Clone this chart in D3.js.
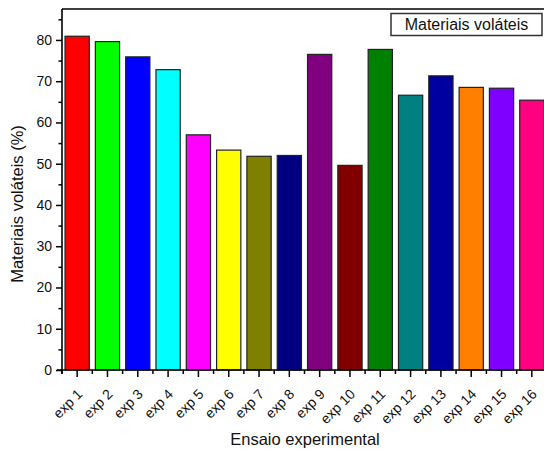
<!DOCTYPE html>
<html>
<head>
<meta charset="utf-8">
<script src="https://cdn.jsdelivr.net/npm/d3@7"></script>
<style>
  html, body { margin: 0; padding: 0; background: #fff; }
  svg { display: block; font-family: Arial, "Liberation Sans", sans-serif; }
</style>
</head>
<body>
<svg id="chart" width="544" height="452"></svg>
<script>
const categories = ["exp 1","exp 2","exp 3","exp 4","exp 5","exp 6","exp 7","exp 8",
                    "exp 9","exp 10","exp 11","exp 12","exp 13","exp 14","exp 15","exp 16"];
const values = [80.9, 79.6, 75.9, 72.8, 57.0, 53.3, 51.8, 52.0,
                76.5, 49.6, 77.7, 66.6, 71.3, 68.5, 68.3, 65.4];
const yTickValues = [0, 10, 20, 30, 40, 50, 60, 70, 80];
const yMinorTickValues = [5, 15, 25, 35, 45, 55, 65, 75, 85];
const yTitle = "Materiais voláteis (%)";
const xTitle = "Ensaio experimental";
const legendLabel = "Materiais voláteis";
const palette = ["#FF0000","#00FF00","#0000FF","#00FFFF","#FF00FF","#FFFF00","#808000","#000080",
                 "#800080","#800000","#008000","#008080","#0000A0","#FF8000","#8000FF","#FF0080"];

const svg = d3.select("#chart");
const mLeft = 62, mRight = 547, mTop = 9, mBottom = 370;

const x = d3.scaleBand().domain(categories).range([mLeft, mRight])
  .paddingInner(0.2).paddingOuter(0.1);
const y = d3.scaleLinear().domain([0, 87.5]).range([mBottom, mTop]);
const color = d3.scaleOrdinal().domain(categories).range(palette);

const textColor = "#111";

// bars
svg.append("g").selectAll("rect").data(categories).join("rect")
  .attr("x", d => x(d))
  .attr("y", (d, i) => y(values[i]))
  .attr("width", x.bandwidth())
  .attr("height", (d, i) => y(0) - y(values[i]))
  .attr("fill", d => color(d))
  .attr("stroke", "#222")
  .attr("stroke-width", 1.2);

// top frame line
svg.append("line")
  .attr("x1", mLeft).attr("x2", mRight)
  .attr("y1", mTop).attr("y2", mTop)
  .attr("stroke", "#000").attr("stroke-width", 1.6);

// y axis
const yAxis = svg.append("g").attr("transform", `translate(${mLeft},0)`)
  .call(d3.axisLeft(y).tickValues(yTickValues).tickSize(6).tickSizeOuter(0).tickPadding(4));
yAxis.select(".domain").attr("stroke", "#000").attr("stroke-width", 1.6)
  .attr("d", `M0,${mTop}V${mBottom + 4}`);
yAxis.selectAll(".tick line").attr("stroke", "#000").attr("stroke-width", 1.5);
yAxis.selectAll(".tick text").attr("font-size", 14).attr("fill", textColor)
  .attr("font-family", "Arial, 'Liberation Sans', sans-serif");
svg.append("g").attr("transform", `translate(${mLeft},0)`)
  .call(d3.axisLeft(y).tickValues(yMinorTickValues).tickSize(3.5).tickFormat(""))
  .call(g => g.select(".domain").remove())
  .selectAll(".tick line").attr("stroke", "#000").attr("stroke-width", 1.5);

// x axis
const xAxis = svg.append("g").attr("transform", `translate(0,${mBottom})`)
  .call(d3.axisBottom(x).tickSize(7).tickSizeOuter(0).tickPadding(4));
xAxis.select(".domain").attr("stroke", "#000").attr("stroke-width", 1.6)
  .attr("d", `M${mLeft - 5},0H${mRight}`);
xAxis.selectAll(".tick line").attr("stroke", "#000").attr("stroke-width", 1.5);
xAxis.selectAll(".tick text")
  .attr("font-size", 14).attr("fill", textColor)
  .attr("font-family", "Arial, 'Liberation Sans', sans-serif")
  .attr("text-anchor", "end")
  .attr("dy", null)
  .attr("y", 0)
  .attr("transform", "translate(6,25) rotate(-45)");

// minor x ticks at band boundaries
const step = x.step();
const minorX = categories.map(d => x(d) + x.bandwidth() / 2 - step / 2)
  .concat([x(categories[categories.length - 1]) + x.bandwidth() / 2 + step / 2]);
svg.append("g").selectAll("line").data(minorX).join("line")
  .attr("x1", d => d).attr("x2", d => d)
  .attr("y1", mBottom).attr("y2", mBottom + 4)
  .attr("stroke", "#000").attr("stroke-width", 1.5);

// axis titles
svg.append("text")
  .attr("transform", `translate(23,204) rotate(-90)`)
  .attr("text-anchor", "middle")
  .attr("font-size", 16.5).attr("fill", textColor)
  .text(yTitle);
svg.append("text")
  .attr("x", 305).attr("y", 445)
  .attr("text-anchor", "middle")
  .attr("font-size", 16.5).attr("fill", textColor)
  .text(xTitle);

// legend box
svg.append("rect")
  .attr("x", 391).attr("y", 13.5).attr("width", 151).attr("height", 22)
  .attr("fill", "#fff").attr("stroke", "#333").attr("stroke-width", 1.5);
svg.append("text")
  .attr("x", 466.5).attr("y", 30)
  .attr("text-anchor", "middle")
  .attr("font-size", 16).attr("fill", textColor)
  .text(legendLabel);
</script>
</body>
</html>
